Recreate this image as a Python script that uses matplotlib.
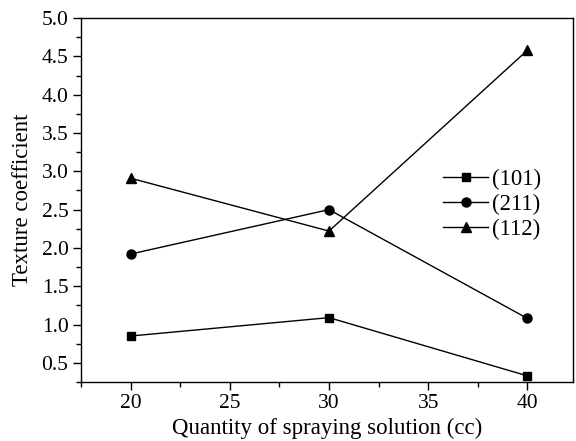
import matplotlib
matplotlib.use("Agg")
import matplotlib.pyplot as plt
from matplotlib.ticker import MultipleLocator

plt.rcParams['font.family'] = ['Liberation Serif', 'DejaVu Serif']
plt.rcParams['mathtext.fontset'] = 'stix'

x = [20, 30, 40]
s101 = [0.85, 1.09, 0.33]
s211 = [1.92, 2.50, 1.08]
s112 = [2.91, 2.22, 4.58]
labels = ['(101)', '(211)', '(112)']

fig = plt.figure(figsize=(5.76, 4.41), dpi=100)
ax = fig.add_axes([0.1406, 0.1338, 0.8542, 0.8252])

ax.plot(x, s101, '-s', color='black', lw=1, ms=6, label=labels[0])
ax.plot(x, s211, '-o', color='black', lw=1, ms=6.5, label=labels[1])
ax.plot(x, s112, '-^', color='black', lw=1, ms=7.5, label=labels[2])

ax.set_xlim(17.5, 42.3)
ax.set_ylim(0.25, 5.0)
ax.xaxis.set_major_locator(MultipleLocator(5))
ax.xaxis.set_minor_locator(MultipleLocator(2.5))
ax.yaxis.set_major_locator(MultipleLocator(0.5))
ax.yaxis.set_minor_locator(MultipleLocator(0.25))
ax.yaxis.set_major_formatter(matplotlib.ticker.FormatStrFormatter('%.1f'))
ax.tick_params(axis='both', which='major', direction='out', length=5.5, width=1, labelsize=15.5, top=False, right=False)
ax.tick_params(axis='both', which='minor', direction='out', length=3.5, width=1, top=False, right=False)
for sp in ax.spines.values():
    sp.set_linewidth(1)

ax.set_xlabel('Quantity of spraying solution (cc)', fontsize=16.5, labelpad=3)
ax.set_ylabel('Texture coefficient', fontsize=16.5, labelpad=6)

ax.legend(loc='upper left', bbox_to_anchor=(0.736, 0.586), frameon=False, fontsize=16.5,
          handlelength=1.96, handletextpad=0.17, labelspacing=0.17, borderaxespad=0, borderpad=0)

fig.savefig('out.png', dpi=100)
